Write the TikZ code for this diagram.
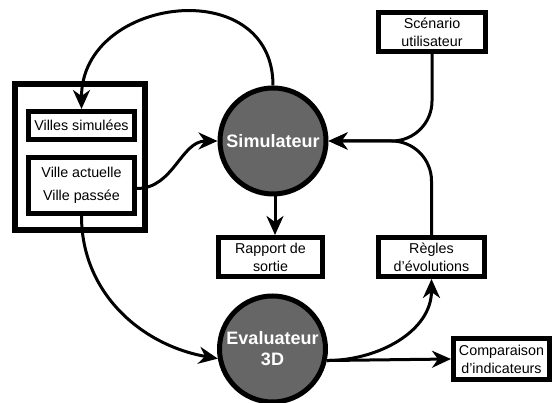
\documentclass[tikz,border=0pt]{standalone}
\usepackage{fontspec}
\setmainfont{Liberation Sans}
\usetikzlibrary{arrows.meta}

\definecolor{procgray}{RGB}{102,102,102}
\tikzset{
    box/.style={draw=black,line width=5pt,fill=white,align=center,inner sep=0pt,font=\fontsize{14.3}{18}\selectfont},
    proc/.style={shape=circle,draw=black,line width=5pt,fill=procgray,text=white,align=center,inner sep=0pt,minimum size=106pt,font=\bfseries\fontsize{18}{21}\selectfont},
    flow/.style={line width=3pt,-{Stealth[length=19pt,width=17pt,inset=6pt]}}
}

\begin{document}
\begin{tikzpicture}[x=1pt,y=1pt]
    \path[use as bounding box,fill=white] (0,0) rectangle (552,403);
    \node[draw=black,line width=6pt,minimum width=130pt,minimum height=146pt] (A) at (80,246) {};
    \node[box,minimum width=106pt,minimum height=28pt] (V) at (81.5,277.5) {Villes simulées};
    \node[box,minimum width=106pt,minimum height=56pt] (P) at (81.5,217.5) {Ville actuelle\\[5pt]Ville passée};
    \node[proc] (S) at (273,262) {Simulateur};
    \node[box,minimum width=107pt,minimum height=39pt] (C) at (432,371) {Scénario\\utilisateur};
    \node[box,minimum width=104pt,minimum height=39pt] (O) at (270.5,146) {Rapport de\\sortie};
    \node[box,minimum width=106pt,minimum height=39pt] (R) at (431.5,146) {Règles\\d'évolutions};
    \node[proc] (E) at (272.5,54) {Evaluateur\\3D};
    \node[box,minimum width=96pt,minimum height=41pt] (K) at (501.5,44) {Comparaison\\d'indicateurs};
    \path [flow] (S.north) edge[out=90,in=90,looseness=1.5] (V.north);
    \path [flow] ([yshift=-3pt]P.east) edge[out=0,in=180] (S.west);
    \draw [flow,rounded corners=40pt] (C.south) |- (S.east);
    \draw [flow,rounded corners=40pt] (R.north) |- (S.east);
    \path [flow] ([xshift=2pt]S.south) edge ([xshift=2pt]S.south |- O.north);
    \path [flow] (P.south) edge[out=-90,in=170] (E.190);
    \path [flow] (E.-12) edge (K.west);
    \path [flow] (E.-12) edge[out=0,in=-90] (R.south);
\end{tikzpicture}
\end{document}
